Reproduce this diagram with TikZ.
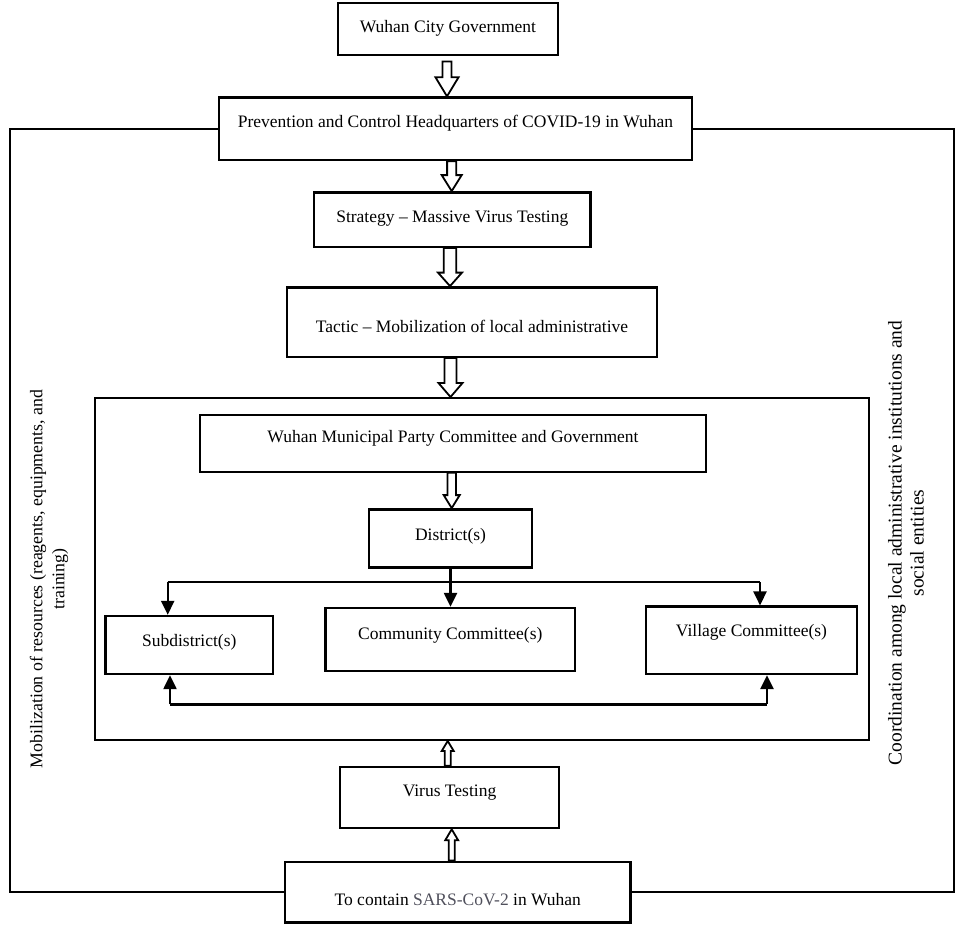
\documentclass[tikz,border=0pt]{standalone}
\usepackage{fontspec}
\setmainfont{Liberation Serif}
\usetikzlibrary{calc,arrows.meta}
\definecolor{sarsgray}{RGB}{80,80,92}
\pgfdeclarelayer{bg}
\pgfsetlayers{bg,main}
\newcommand\boxfont{\fontsize{17.5}{20}\selectfont}
% #1 x, #2 from, #3 to, #4 dir (1 down, -1 up), #5 shaft half width, #6 head half width, #7 head length
\newcommand\hollowarr[7]{%
  \coordinate (hx) at (#1,0);
  \coordinate (hA) at (#2 -| hx);
  \coordinate (hB) at (#3 -| hx);
  \draw[hollow] ($(hA)+({-#5},0)$) -- ($(hB)+({-#5},{-(#7)*(#4)})$) -- ($(hB)+({-#6},{-(#7)*(#4)})$) -- (hB)
     -- ($(hB)+({#6},{-(#7)*(#4)})$) -- ($(hB)+({#5},{-(#7)*(#4)})$) -- ($(hA)+({#5},0)$) -- cycle;}
\begin{document}
\begin{tikzpicture}[x=1pt,y=-1pt,
  box/.style={draw, line width=2.4pt, inner sep=0pt},
  txt/.style 2 args={label={[font=\boxfont, yshift=#2, inner sep=0pt]center:#1}},
  hollow/.style={draw, fill=white, line width=1.8pt, line join=miter},
  conn/.style={line width=2.4pt},
  arr/.style={line width=2.4pt, -{Triangle[length=14pt,width=13pt]}},
  frame/.style={line width=2.2pt}]
\useasboundingbox (0,0) rectangle (957,931);

\node[box, minimum width=220pt, minimum height=52.5pt, txt={Wuhan City Government}{1pt}] (city) at (448,29) {};
\node[box, minimum width=473pt, minimum height=62.5pt, txt={Prevention and Control Headquarters of COVID-19 in Wuhan}{5.5pt}] (prev) at (455.5,128.8) {};
\node[box, minimum width=276.5pt, minimum height=54.4pt, txt={Strategy – Massive Virus Testing}{1pt}] (strat) at (452.3,219.5) {};
\node[box, minimum width=370pt, minimum height=69.4pt, txt={Tactic – Mobilization of local administrative}{-4pt}] (tactic) at (472,322) {};
\node[box, line width=2pt, minimum width=774pt, minimum height=342pt] (inner) at (482,569) {};
\node[box, line width=2pt, minimum width=506pt, minimum height=56.7pt, txt={Wuhan Municipal Party Committee and Government}{5pt}] (muni) at (453,443.3) {};
\node[box, minimum width=163pt, minimum height=58pt, txt={District(s)}{2pt}] (district) at (450.5,538.3) {};
\node[box, minimum width=167.3pt, minimum height=58pt, txt={Subdistrict(s)}{3pt}] (subd) at (189.3,645) {};
\node[box, minimum width=249.3pt, minimum height=63pt, txt={Community Committee(s)}{4.5pt}] (comm) at (450.3,639.5) {};
\node[box, minimum width=211pt, minimum height=67.3pt, txt={Village Committee(s)}{7.5pt}] (vill) at (751.5,640.3) {};
\node[box, line width=2pt, minimum width=219pt, minimum height=61.6pt, txt={Virus Testing}{5pt}] (virus) at (449.5,797.5) {};
\node[box, minimum width=345.7pt, minimum height=60.6pt, txt={To contain \textcolor{sarsgray}{SARS-CoV-2} in Wuhan}{-8pt}] (contain) at (457.8,892) {};

% side texts
\node[rotate=90, align=center, font=\fontsize{17.8}{22}\selectfont] (mob) at (49,579)
  {Mobilization of resources (reagents, equipments, and\\training)};
\node[rotate=90, align=center, font=\fontsize{19.5}{22}\selectfont] (coord) at (906,543)
  {Coordination among local administrative institutions and\\social entities};

% outer frame
\coordinate (fL) at (10,0);
\coordinate (fR) at (954,0);
\draw[frame] (prev.west) -- (prev.west -| fL) -- (fL |- contain.west) -- (contain.west);
\draw[frame] (prev.east) -- (prev.east -| fR) -- (fR |- contain.east) -- (contain.east);

% hollow arrows
\coordinate (cityout) at ($(city.south)+(0,5)$);
\begin{pgfonlayer}{bg}
\hollowarr{447}{cityout}{prev.north}{1}{4.5}{11.5}{19}
\hollowarr{451.7}{prev.south}{strat.north}{1}{4.6}{10}{16}
\hollowarr{450}{strat.south}{tactic.north}{1}{6.3}{12}{13.5}
\hollowarr{450.5}{tactic.south}{inner.north}{1}{6}{12}{14}
\hollowarr{451.7}{muni.south}{district.north}{1}{4.3}{8}{13}
\hollowarr{447.7}{virus.north}{inner.south}{-1}{3}{6}{10}
\hollowarr{451.7}{contain.north}{virus.south}{-1}{3}{6.5}{11}
\end{pgfonlayer}

% district distribution
\coordinate (sL) at (167.7,582);
\coordinate (sR) at (760,582);
\draw[conn] (sL) -- (sR);
\draw[arr] (district.south) -- (district.south |- comm.north);
\draw[arr] (sL) -- (sL |- subd.north);
\draw[arr] (sR) -- (sR |- vill.north);

% feedback line
\coordinate (bL) at (170,704.3);
\coordinate (bR) at (767,704.3);
\draw[conn] (bL) -- (bR);
\draw[arr] (bL) -- (bL |- subd.south);
\draw[arr] (bR) -- (bR |- vill.south);
\end{tikzpicture}
\end{document}
